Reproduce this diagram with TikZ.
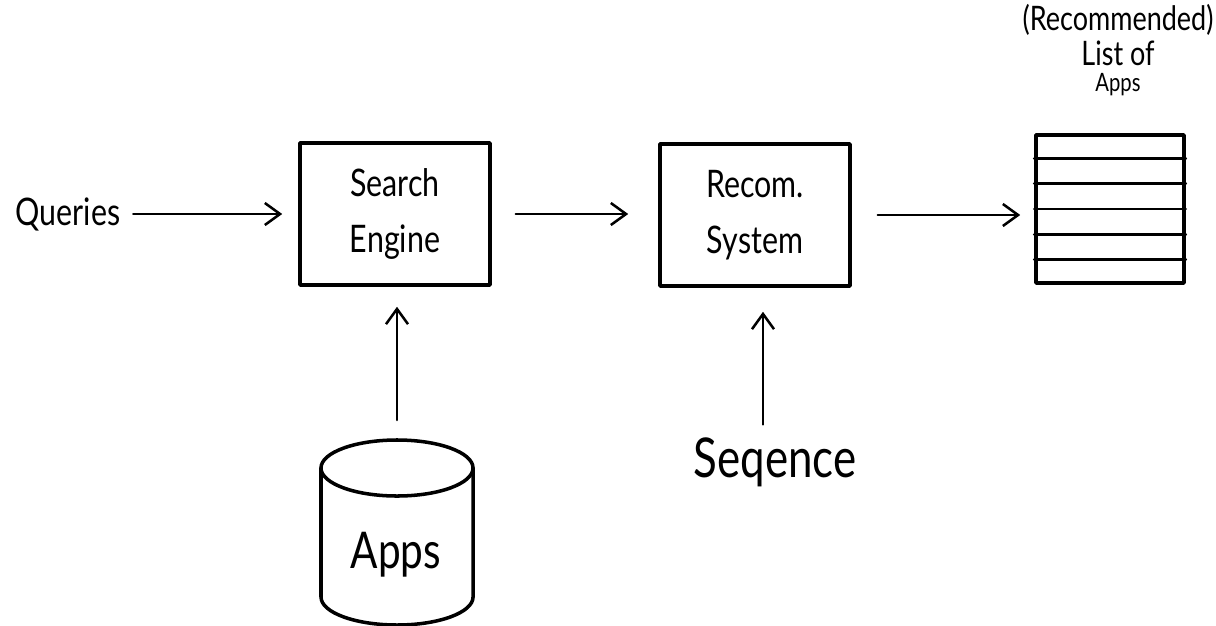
\documentclass[tikz,border=0pt]{standalone}
\usepackage{fontspec}
\setmainfont{Lato}[FakeStretch=0.8]
\usetikzlibrary{arrows.meta,positioning,calc}

\begin{document}
\begin{tikzpicture}[x=0.025cm,y=-0.025cm,>={Straight Barb[length=0.38cm,width=0.55cm]},line join=round,line cap=round,
	box/.style={draw,line width=2.5pt,minimum width=4.75cm,minimum height=3.55cm,align=center,font=\fontsize{27}{40}\selectfont},
	flow/.style={->,line width=1.8pt}]
	\useasboundingbox (0,0) rectangle (1216,625);
	% pipeline boxes
	\node[box] (se) at (395,214) {Search\\Engine};
	\node[box] (rs) at (755,215) {Recom.\\System};
	\node[draw,line width=2.5pt,minimum width=3.7cm,minimum height=3.7cm] (list) at (1110,209) {};
	\foreach \k in {1,...,5}
		\draw[line width=2pt] ($(list.north west)!\k/6!(list.south west)$) -- ($(list.north east)!\k/6!(list.south east)$);
	\node[align=center,font=\fontsize{24}{25}\selectfont] (title) at (1118,50) {(Recommended)\\List of\\[-7pt]{\fontsize{18}{18}\selectfont Apps}};
	% inputs
	\node[font=\fontsize{27}{27}\selectfont] (queries) at (68,214) {Queries};
	\node[font=\fontsize{39}{39}\selectfont] (seq) at (775,462) {Seqence};
	% app database
	\draw[line width=2.5pt] (397,468) ellipse [x radius=1.9cm,y radius=0.7cm];
	\draw[line width=2.5pt] (321,468) -- (321,597) arc[start angle=180,end angle=360,x radius=1.9cm,y radius=0.7cm] -- (473,468);
	\node[font=\fontsize{36}{36}\selectfont] (apps) at (396,555) {Apps};
	\coordinate (db) at (397,420);
	% connectors
	\draw[flow,shorten <=0.2cm,shorten >=0.4cm] (queries.east) -- (queries.east -| se.west);
	\draw[flow,shorten <=0.6cm,shorten >=0.75cm] (se.east) -- (se.east -| rs.west);
	\draw[flow,shorten <=0.65cm,shorten >=0.35cm] (rs.east) -- (rs.east -| list.west);
	\draw[flow,shorten >=0.5cm] (db) -- (db |- se.south);
	\draw[flow,shorten <=0.2cm,shorten >=0.6cm] ([xshift=-0.3cm]seq.north) -- ([xshift=-0.3cm]seq.north |- rs.south);
\end{tikzpicture}
\end{document}
